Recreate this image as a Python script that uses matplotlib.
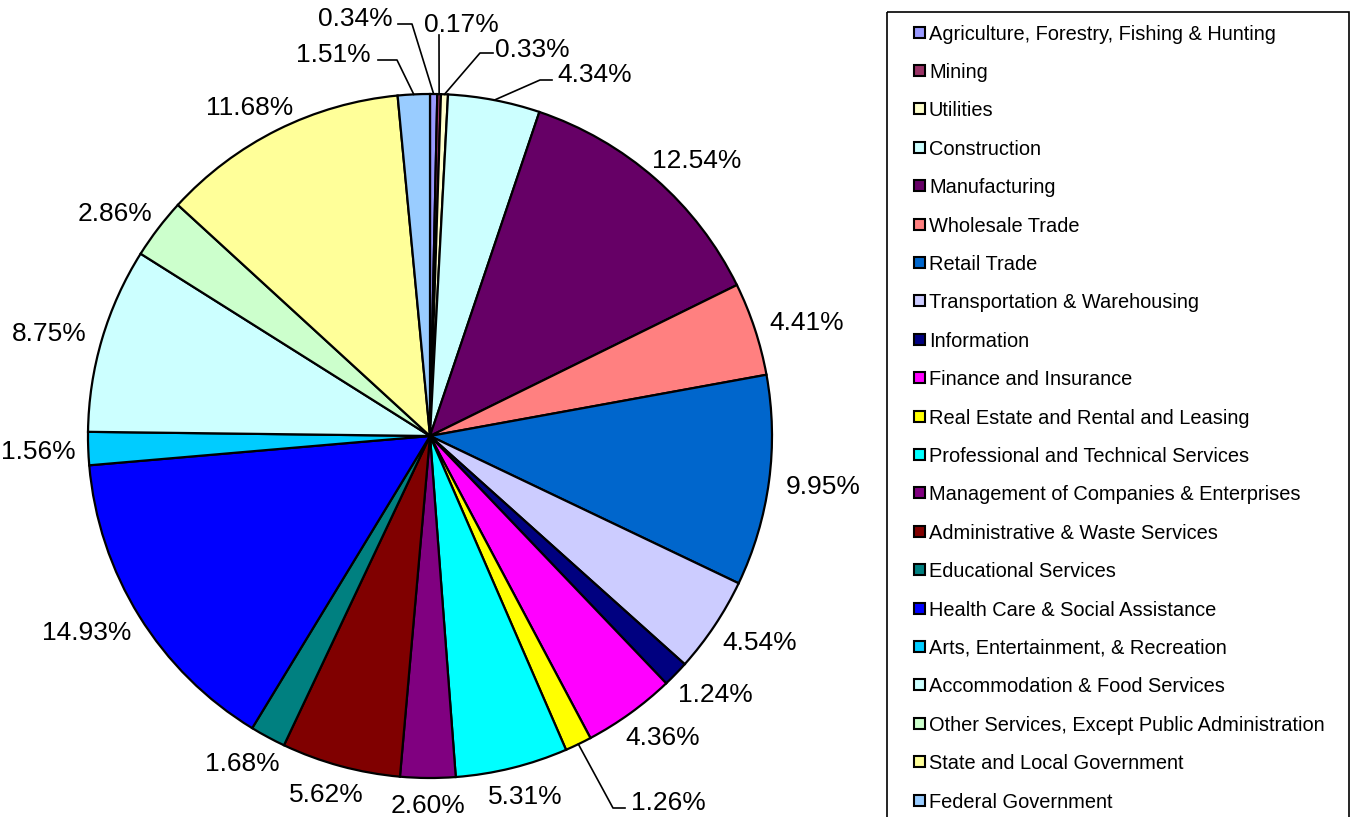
import numpy as np
import matplotlib

matplotlib.use("Agg")
import matplotlib.pyplot as plt
from matplotlib.patches import Rectangle

plt.rcParams["font.family"] = ["Liberation Sans", "DejaVu Sans"]

industries = [
    "Agriculture, Forestry, Fishing & Hunting",
    "Mining",
    "Utilities",
    "Construction",
    "Manufacturing",
    "Wholesale Trade",
    "Retail Trade",
    "Transportation & Warehousing",
    "Information",
    "Finance and Insurance",
    "Real Estate and Rental and Leasing",
    "Professional and Technical Services",
    "Management of Companies & Enterprises",
    "Administrative & Waste Services",
    "Educational Services",
    "Health Care & Social Assistance",
    "Arts, Entertainment, & Recreation",
    "Accommodation & Food Services",
    "Other Services, Except Public Administration",
    "State and Local Government",
    "Federal Government",
]
shares = [0.34, 0.17, 0.33, 4.34, 12.54, 4.41, 9.95, 4.54, 1.24, 4.36, 1.26,
          5.31, 2.60, 5.62, 1.68, 14.93, 1.56, 8.75, 2.86, 11.68, 1.51]
colors = ["#9999FF", "#993366", "#FFFFCC", "#CCFFFF", "#660066", "#FF8080",
          "#0066CC", "#CCCCFF", "#000080", "#FF00FF", "#FFFF00", "#00FFFF",
          "#800080", "#800000", "#008080", "#0000FF", "#00CCFF", "#CCFFFF",
          "#CCFFCC", "#FFFF99", "#99CCFF"]

W, H = 1351, 817
CX, CY, R = 430, 436, 342  # pie centre / radius in pixels


def to_data(x, y):
    return (x - CX) / R, (CY - y) / R


# small slices get leader lines: text centre, knee, tail (pixels)
leaders = {
    0: ((355, 17), (412, 24), (398, 24)),
    1: ((461, 22), (439, 35), None),
    2: ((532, 47), (480, 53), (493, 53)),
    3: ((595, 72), (540, 80), (552, 80)),
    10: ((668, 800), (613, 808), (625, 808)),
    20: ((333, 52), (397, 60), (378, 60)),
}

fig = plt.figure(figsize=(W / 100, H / 100), dpi=100)
ax = fig.add_axes([0, 0, 1, 1])
wedges, _ = ax.pie(shares, colors=colors, startangle=90, counterclock=False,
                   radius=1, center=(0, 0), frame=True,
                   wedgeprops=dict(edgecolor="black", linewidth=1.6))
ax.set_xlim(-CX / R, (W - CX) / R)
ax.set_ylim(-(H - CY) / R, CY / R)
ax.set_aspect("equal")
ax.axis("off")

fs = 19
left_lim = to_data(1, 0)[0]
bottom_lim = to_data(0, 814)[1]
for i, (w, v) in enumerate(zip(wedges, shares)):
    label = f"{v:.2f}%"
    ang = np.deg2rad((w.theta1 + w.theta2) / 2)
    c, s = np.cos(ang), np.sin(ang)
    if i in leaders:
        txt, knee, tail = leaders[i]
        pts = [(c, s), to_data(*knee)]
        if tail is not None:
            pts.append(to_data(*tail))
        xs, ys = zip(*pts)
        ax.plot(xs, ys, color="black", lw=1.2)
        tx, ty = to_data(*txt)
    else:
        half_w = (0.22 if len(label) == 5 else 0.262) / 2
        tx = 1.05 * c + half_w * c
        ty = 1.05 * s + 0.03 * s
        # keep labels inside the canvas
        tx = max(tx, left_lim + half_w)
        ty = max(ty, bottom_lim + 0.032)
    ax.text(tx, ty, label, fontsize=fs, ha="center", va="center_baseline")

# legend drawn in pixel space
lax = fig.add_axes([0, 0, 1, 1], facecolor="none")
lax.set_xlim(0, W)
lax.set_ylim(H, 0)
lax.axis("off")
lax.add_patch(Rectangle((887, 12), 462, 830, fill=False, edgecolor="black", lw=1.2))
for i, (name, col) in enumerate(zip(industries, colors)):
    y = 32 + i * 38.4
    lax.add_patch(Rectangle((914, y - 5.5), 11, 11, facecolor=col, edgecolor="black", lw=1.5))
    lax.text(929, y, name, fontsize=14.4, ha="left", va="center_baseline")

fig.savefig("out.png", dpi=100)
